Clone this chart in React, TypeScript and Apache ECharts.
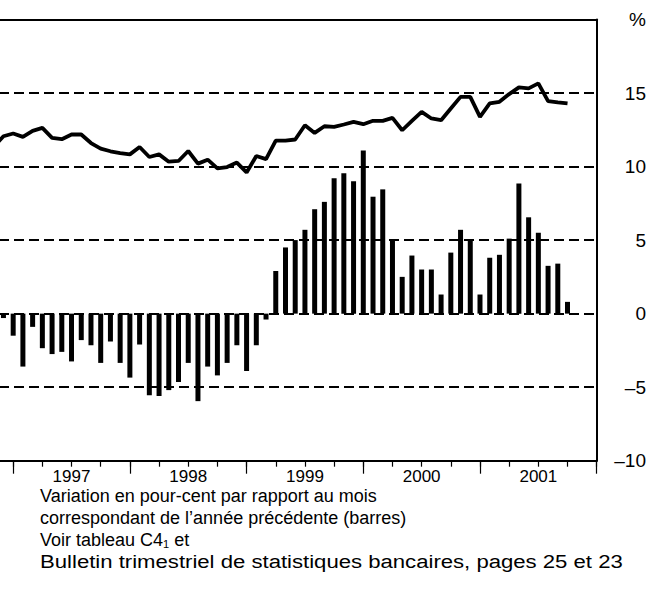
import { useEffect, useRef } from "react";
import * as echarts from "echarts";

// Month index t: 0 = December 1996 observation (plotted at the 1 Jan 1997 tick)
const barStart = -1; // November 1996
const barValues = [
  -0.3, -1.5, -3.6, -0.9, -2.35, -2.75, -2.6, -3.25, -1.8, -2.15, -3.35, -1.9,
  -3.35, -4.35, -2.1, -5.55, -5.6, -5.2, -4.65, -3.35, -5.95, -3.6, -4.2, -3.35,
  -2.15, -3.9, -2.15, -0.4, 2.9, 4.5, 5.0, 5.7, 7.1, 7.6, 9.2, 9.55,
  9.0, 11.1, 7.95, 8.45, 5.0, 2.5, 3.95, 3.0, 3.0, 1.3, 4.15, 5.7,
  5.0, 1.3, 3.8, 4.0, 5.1, 8.85, 6.55, 5.5, 3.25, 3.4, 0.8,
];

const lineStart = -2; // October 1996
const lineValues = [
  11.35, 12.06, 12.25, 12.02, 12.43, 12.63, 11.95, 11.86, 12.18, 12.18, 11.6, 11.22,
  11.04, 10.92, 10.83, 11.33, 10.65, 10.83, 10.33, 10.38, 11.06, 10.2, 10.47, 9.88,
  9.97, 10.27, 9.6, 10.72, 10.51, 11.77, 11.77, 11.84, 12.81, 12.29, 12.74, 12.7,
  12.86, 13.04, 12.88, 13.11, 13.11, 13.31, 12.47, 13.11, 13.72, 13.27, 13.15, 13.95,
  14.74, 14.74, 13.38, 14.29, 14.4, 14.93, 15.38, 15.32, 15.66, 14.45, 14.36, 14.29,
];

const yearLabels = ["1997", "1998", "1999", "2000", "2001"];
const yTicks = [-10, -5, 0, 5, 10, 15, 20];
const yTickLabels = ["–10", "–5", "0", "5", "10", "15", "%"];

const footerLines = [
  "Variation en pour-cent par rapport au mois",
  "correspondant de l’année précédente (barres)",
  "Voir tableau C4{sub|1} et",
  "Bulletin trimestriel de statistiques bancaires, pages 25 et 23",
];
const footerStretch = [1, 1, 1, 1.23];

const FONT = "'Liberation Sans', Arial, Helvetica, sans-serif";
const SHIFT = 16;

export default function App() {
  const ref = useRef<HTMLDivElement>(null);

  useEffect(() => {
    if (!ref.current) return;
    const chart = echarts.init(ref.current, null, { renderer: "svg" });

    const barData = barValues.map((v, i) => [barStart + i, v]);
    const lineData = lineValues.map((v, i) => [lineStart + i, v]);
    const quarterTicks: number[] = [];
    for (let t = 0; t <= 60; t += 3) quarterTicks.push(t);
    const yearTicks = [0, 1, 2, 3, 4, 5].map((i) => i * 12);
    const yearLabelPos = yearLabels.map((_, i) => 6 + i * 12);

    const baseX = {
      type: "value",
      min: -3,
      max: 60,
      splitLine: { show: false },
    };

    const option: any = {
      animation: false,
      backgroundColor: "#fff",
      grid: { left: 0, right: 66.3, top: 19.5, bottom: 131.3, containLabel: false },
      xAxis: [
        {
          ...baseX,
          position: "bottom",
          axisLine: { show: true, onZero: false, lineStyle: { color: "#000", width: 2 } },
          axisTick: {
            show: true,
            customValues: quarterTicks,
            length: 6,
            lineStyle: { color: "#000", width: 1.2 },
          },
          axisLabel: { show: false },
        },
        {
          ...baseX,
          position: "bottom",
          axisLine: { show: false, onZero: false },
          axisTick: {
            show: true,
            customValues: yearTicks,
            length: 13,
            lineStyle: { color: "#000", width: 1.2 },
          },
          axisLabel: {
            show: true,
            customValues: yearLabelPos,
            formatter: (v: number) => yearLabels[Math.round((v - 6) / 12)] ?? "",
            margin: 7,
            color: "#000",
            fontSize: 17,
            fontFamily: FONT,
          },
        },
        {
          ...baseX,
          position: "top",
          axisLine: { show: true, onZero: false, lineStyle: { color: "#000", width: 2 } },
          axisTick: { show: false },
          axisLabel: { show: false },
        },
      ],
      yAxis: {
        type: "value",
        min: -10,
        max: 20,
        interval: 5,
        position: "right",
        axisLine: { show: true, onZero: false, lineStyle: { color: "#000", width: 2 } },
        axisTick: { show: false },
        axisLabel: {
          formatter: (v: number) => yTickLabels[yTicks.indexOf(v)] ?? "",
          align: "right",
          margin: 49.3,
          color: "#000",
          fontSize: 19,
          fontFamily: FONT,
          padding: [4, 0, 0, 0],
        },
        splitLine: {
          show: true,
          lineStyle: { color: "#000", width: 2, type: [10, 5] },
        },
      },
      series: [
        {
          type: "bar",
          data: barData,
          xAxisIndex: 0,
          barWidth: 5,
          itemStyle: { color: "#000" },
          z: 2,
        },
        {
          type: "line",
          data: lineData,
          xAxisIndex: 0,
          symbol: "none",
          showSymbol: false,
          lineStyle: { color: "#000", width: 3.8 },
          z: 3,
        },
      ],
      graphic: footerLines.map((txt, i) => ({
        type: "text",
        x: 40 + SHIFT,
        y: 487 + i * 22,
        scaleX: footerStretch[i],
        style: {
          text: txt,
          fill: "#000",
          font: `18px ${FONT}`,
          rich: {
            sub: { fontSize: 11, fontFamily: FONT, fill: "#000", verticalAlign: "bottom", padding: [6, 0, 0, 0] },
          },
        },
      })),
    };

    chart.setOption(option);
    return () => chart.dispose();
  }, []);

  return (
    <div
      ref={ref}
      style={{ position: "absolute", left: -SHIFT, top: 0, width: 663 + SHIFT, height: 592 }}
    />
  );
}
